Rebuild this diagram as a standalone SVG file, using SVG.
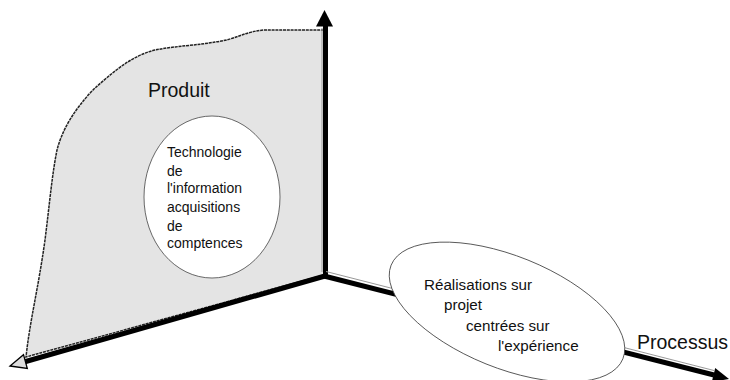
<svg xmlns="http://www.w3.org/2000/svg" width="730" height="380" viewBox="0 0 730 380">
<style>
.lbl{font-family:"Liberation Sans",Arial,sans-serif;fill:#111}
.big{font-size:19.5px}
.sm{font-size:14px}
.md{font-size:15.2px}
.ell{fill:#fff;stroke:#444;stroke-width:0.8}
.shaft{stroke:#000;stroke-width:5;fill:none}
.hl{stroke:#999;stroke-width:1;fill:none}
</style>
<rect width="730" height="380" fill="#fff"/>
<g id="plane-produit">
<path d="M 324,30 L 265,30 C 245,31 235,40 215,42 C 200,45 175,46 155,50 C 130,56 110,75 95,88 C 75,108 62,130 57,150 C 52,175 50,200 45,240 C 38,290 30,320 26,357 L 324,275 Z" fill="#e4e4e4" stroke="#222" stroke-width="1.5" stroke-dasharray="3 0.8"/>
<text class="lbl big" x="148" y="97">Produit</text>
</g>
<g id="connectors">
<line class="shaft" x1="325.5" y1="277" x2="325.5" y2="25"/>
<line class="hl" x1="322" y1="272" x2="322" y2="28"/>
<polygon points="324.5,10 316,26.5 333,26.5" fill="#000"/>
<line class="shaft" x1="325" y1="276" x2="24" y2="362"/>
<polygon points="10,366 27.3,368.5 23.5,354.7" fill="#ddd" stroke="#000" stroke-width="1.3"/>
<line class="shaft" x1="324" y1="276" x2="714" y2="375"/>
<line class="hl" x1="326" y1="271.5" x2="714" y2="370.5"/>
<polygon points="729,379 711.8,382 715.2,368" fill="#000"/>
</g>
<g id="node-technologie">
<ellipse class="ell" cx="212" cy="197" rx="68" ry="81"/>
<text class="lbl sm" x="167" y="157">Technologie</text>
<text class="lbl sm" x="167" y="175.5">de</text>
<text class="lbl sm" x="167" y="193">l'information</text>
<text class="lbl sm" x="167" y="212">acquisitions</text>
<text class="lbl sm" x="167" y="230.5">de</text>
<text class="lbl sm" x="167" y="248">comptences</text>
</g>
<g id="node-realisations">
<ellipse class="ell" cx="507" cy="312" rx="125" ry="56" transform="rotate(22 507 312)"/>
<text class="lbl md" x="424" y="290">Réalisations sur</text>
<text class="lbl md" x="444" y="310">projet</text>
<text class="lbl md" x="466" y="330.5">centrées sur</text>
<text class="lbl md" x="498" y="351">l'expérience</text>
</g>
<g id="label-processus">
<text class="lbl big" x="637" y="348.5">Processus</text>
</g>
</svg>
